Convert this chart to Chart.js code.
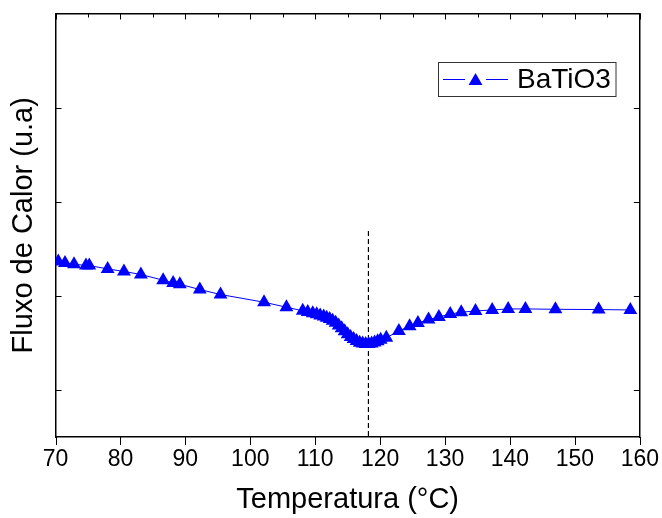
<!DOCTYPE html>
<html>
<head>
<meta charset="utf-8">
<script src="https://cdn.jsdelivr.net/npm/chart.js@4"></script>
<style>
  html, body { margin: 0; padding: 0; background: #fff; }
  #wrap { width: 662px; height: 518px; }
</style>
</head>
<body>
<div id="wrap"><canvas id="dsc" width="662" height="518"></canvas></div>
<script>
// temperatura (°C) e fluxo de calor (u.a)
const temps = [70.43, 71.46, 72.85, 74.69, 75.2, 78.03, 80.54, 83.15, 86.58, 88.12, 89.15, 92.23, 95.42,
  102.12, 105.57, 108.08, 108.85, 109.62, 110.23, 110.77, 111.31, 111.77, 112.23, 112.69, 113.15, 113.62,
  114.08, 114.54, 115.0, 115.46, 115.92, 116.38, 116.85, 117.31, 117.77, 118.23, 118.69, 119.15, 119.62,
  120.08, 120.95, 122.89, 124.54, 125.82, 127.46, 129.05, 130.8, 132.49, 134.69, 137.26, 139.72, 142.38,
  147.0, 153.66, 158.54];
const fluxo = [1.365, 1.350, 1.336, 1.322, 1.322, 1.286, 1.259, 1.227, 1.166, 1.137, 1.123, 1.067, 1.014,
  0.932, 0.879, 0.841, 0.829, 0.815, 0.803, 0.791, 0.780, 0.768, 0.755, 0.735, 0.714, 0.685,
  0.655, 0.623, 0.591, 0.563, 0.540, 0.520, 0.502, 0.493, 0.487, 0.487, 0.493, 0.504, 0.518,
  0.534, 0.554, 0.627, 0.677, 0.712, 0.748, 0.776, 0.807, 0.826, 0.839, 0.850, 0.861, 0.861,
  0.857, 0.854, 0.850];

// linha tracejada da transição
const tcX = [118.2, 118.2];
const tcY = [1.69, -0.5];

const xMin = 70, xMax = 160, xStep = 5;
const yMin = -0.5, yMax = 4, yStep = 1;
const serieNome = 'BaTiO3';

const azul = '#0000ff';
const fonte = 'Arial, "Liberation Sans", sans-serif';

// marcas de escala estilo Origin: fora embaixo, dentro nos outros lados
const marcas = {
  id: 'marcas',
  afterDatasetsDraw(chart) {
    const ctx = chart.ctx;
    const a = chart.chartArea;
    ctx.save();
    ctx.strokeStyle = '#000';
    ctx.lineWidth = 1;
    ctx.beginPath();
    for (const id of ['x', 'x2']) {
      const s = chart.scales[id];
      s.ticks.forEach(t => {
        const px = Math.round(s.getPixelForValue(t.value)) + 0.5;
        const major = t.value % 10 === 0;
        if (id === 'x') { ctx.moveTo(px, a.bottom); ctx.lineTo(px, a.bottom + (major ? 8 : 5)); }
        else { ctx.moveTo(px, a.top); ctx.lineTo(px, a.top + (major ? 6 : 4)); }
      });
    }
    for (const id of ['y', 'y2']) {
      const s = chart.scales[id];
      s.ticks.forEach(t => {
        if (t.value <= yMin || t.value >= yMax) return;
        const py = Math.round(s.getPixelForValue(t.value)) + 0.5;
        if (id === 'y') { ctx.moveTo(a.left, py); ctx.lineTo(a.left + 6, py); }
        else { ctx.moveTo(a.right, py); ctx.lineTo(a.right - 6, py); }
      });
    }
    ctx.stroke();
    ctx.restore();
  }
};

// legenda desenhada à mão: linha - triângulo - linha
const legendaOrigin = {
  id: 'legendaOrigin',
  afterDraw(chart) {
    const ctx = chart.ctx;
    const x0 = 438.5, y0 = 62.5, w = 177.5, h = 34;
    const cy = y0 + h / 2;
    ctx.save();
    ctx.strokeStyle = '#333';
    ctx.lineWidth = 1;
    ctx.strokeRect(x0, y0, w, h);
    ctx.strokeStyle = azul;
    ctx.lineWidth = 1;
    ctx.beginPath();
    ctx.moveTo(443, cy); ctx.lineTo(465, cy);
    ctx.moveTo(486, cy); ctx.lineTo(508, cy);
    ctx.stroke();
    ctx.fillStyle = azul;
    const r = 8, tx = 475.5, ty = cy + 1.5;
    ctx.beginPath();
    ctx.moveTo(tx, ty - r);
    ctx.lineTo(tx + r * 0.866, ty + r / 2);
    ctx.lineTo(tx - r * 0.866, ty + r / 2);
    ctx.closePath();
    ctx.fill();
    ctx.fillStyle = '#000';
    ctx.font = '28px ' + fonte;
    ctx.textBaseline = 'middle';
    ctx.fillText(serieNome, 517, cy + 1);
    ctx.restore();
  }
};

const eixo = (extra) => Object.assign({
  border: { color: '#000', width: 1.5 },
  grid: { drawOnChartArea: false, drawTicks: false }
}, extra);

new Chart(document.getElementById('dsc'), {
  type: 'line',
  data: {
    datasets: [{
      label: serieNome,
      data: temps.map((t, i) => ({ x: t, y: fluxo[i] })),
      borderColor: azul,
      borderWidth: 1,
      backgroundColor: azul,
      pointStyle: 'triangle',
      pointRadius: 8,
      pointBorderWidth: 0,
      pointBackgroundColor: azul,
      tension: 0
    }, {
      label: 'Tc',
      data: tcX.map((t, i) => ({ x: t, y: tcY[i] })),
      borderColor: '#000',
      borderWidth: 1.2,
      borderDash: [5, 3],
      pointRadius: 0
    }]
  },
  options: {
    responsive: false,
    animation: false,
    layout: { padding: 0 },
    plugins: { legend: { display: false }, tooltip: { enabled: false } },
    scales: {
      x: eixo({
        type: 'linear', position: 'bottom', min: xMin, max: xMax,
        // marcas reais desenhadas pelo plugin; aqui só reservam espaço
        grid: { drawOnChartArea: false, drawTicks: true, tickLength: 6, tickColor: 'rgba(0,0,0,0)' },
        ticks: {
          stepSize: xStep, color: '#000', padding: 3,
          font: { family: fonte, size: 23 },
          maxRotation: 0,
          callback: v => (v % 10 === 0 ? String(v) : '')
        },
        title: {
          display: true, text: 'Temperatura (°C)', color: '#000',
          font: { family: fonte, size: 29, lineHeight: 1.2 },
          padding: { top: 0, bottom: 1 }
        },
        afterFit: s => { s.height = 81; }
      }),
      x2: eixo({
        type: 'linear', position: 'top', min: xMin, max: xMax,
        ticks: { stepSize: xStep, display: false },
        afterFit: s => { s.height = 13.5; }
      }),
      y: eixo({
        position: 'left', min: yMin, max: yMax,
        ticks: { stepSize: yStep, display: false },
        title: {
          display: true, text: 'Fluxo de Calor (u.a)', color: '#000',
          font: { family: fonte, size: 29, lineHeight: 1.2 },
          padding: { top: 7, bottom: 0 }
        },
        afterFit: s => { s.width = 55.5; }
      }),
      y2: eixo({
        position: 'right', min: yMin, max: yMax,
        ticks: { stepSize: yStep, display: false },
        afterFit: s => { s.width = 21.5; }
      })
    }
  },
  plugins: [marcas, legendaOrigin]
});
</script>
</body>
</html>
